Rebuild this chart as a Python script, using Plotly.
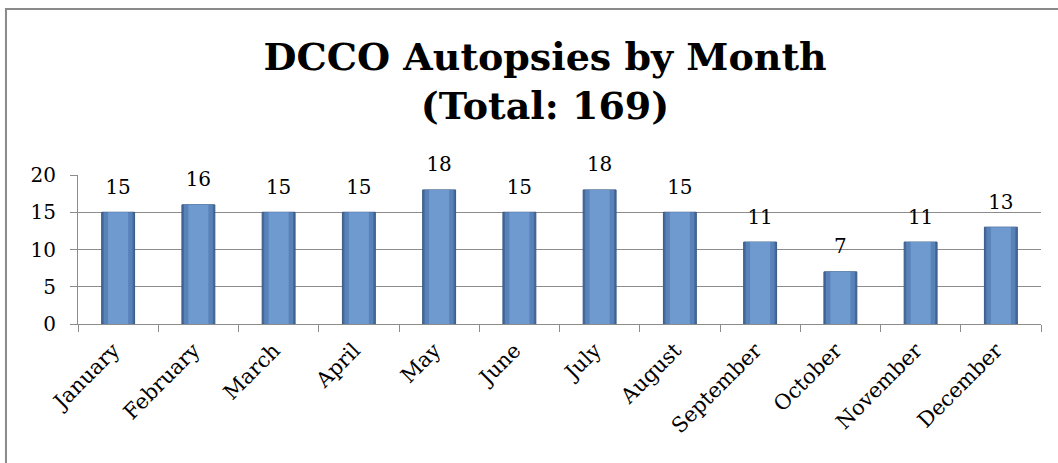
import plotly.graph_objects as go

months = ["January", "February", "March", "April", "May", "June",
          "July", "August", "September", "October", "November", "December"]
counts = [15, 16, 15, 15, 18, 15, 18, 15, 11, 7, 11, 13]
y_ticks = [0, 5, 10, 15, 20]
title_lines = ["DCCO Autopsies by Month", "(Total: 169)"]

serif = "DejaVu Serif"
grid = "#8c8c8c"

W, H = 1058, 463

fig = go.Figure()
# layered bars to mimic the bevelled gradient fill
bar_layers = [
    (0.41, "#45699c", dict(color="#3a5a86", width=1)),
    (0.36, "#5882b8", dict(width=0)),
    (0.25, "#6e9ad0", dict(width=0)),
]
for w, col, ln in bar_layers:
    fig.add_trace(go.Bar(
        x=months, y=counts, width=w,
        marker=dict(color=col, line=ln),
        hoverinfo="skip", showlegend=False,
    ))
# data labels
fig.add_trace(go.Scatter(
    x=months, y=counts, mode="markers+text", text=[str(v) for v in counts],
    textposition="top center",
    marker=dict(size=20, color="rgba(0,0,0,0)"),
    textfont=dict(family=serif, size=20, color="#000"),
    hoverinfo="skip", showlegend=False, cliponaxis=False,
))

fig.update_layout(
    width=W, height=H,
    margin=dict(l=78, r=17, t=175, b=139),
    paper_bgcolor="white", plot_bgcolor="white",
    barmode="overlay",
    title=dict(text="<br>".join(title_lines), x=0.485, xref="paper", xanchor="center",
               y=1 - 70 / H, yref="container", yanchor="top",
               font=dict(family=serif, size=38, color="#000", weight="bold")),
    xaxis=dict(
        type="category", range=[-0.5, len(months) - 0.5], tickangle=-45, tickson="boundaries",
        ticks="outside", ticklen=7, tickcolor=grid, tickwidth=1,
        showline=True, linecolor=grid, linewidth=1,
        showgrid=False, ticksuffix=" ",
        tickfont=dict(family=serif, size=21, color="#000"),
    ),
    yaxis=dict(
        range=[0, 20], tickvals=y_ticks,
        ticks="outside", ticklen=7, tickcolor=grid, tickwidth=1,
        showline=True, linecolor=grid, linewidth=1,
        showgrid=True, gridcolor=grid, gridwidth=1,
        zeroline=False, ticklabelstandoff=10,
        tickfont=dict(family=serif, size=20, color="#000"),
    ),
    shapes=[dict(type="rect", xref="paper", yref="paper",
                 x0=-0.0748, x1=1.2, y0=-3, y1=2.114,
                 line=dict(color="#8a8a8a", width=2), fillcolor="rgba(0,0,0,0)", layer="below")],
)

fig.write_html("out.html", config={"displayModeBar": False},
               post_script="document.body.style.margin='0';document.body.style.overflow='hidden';")
